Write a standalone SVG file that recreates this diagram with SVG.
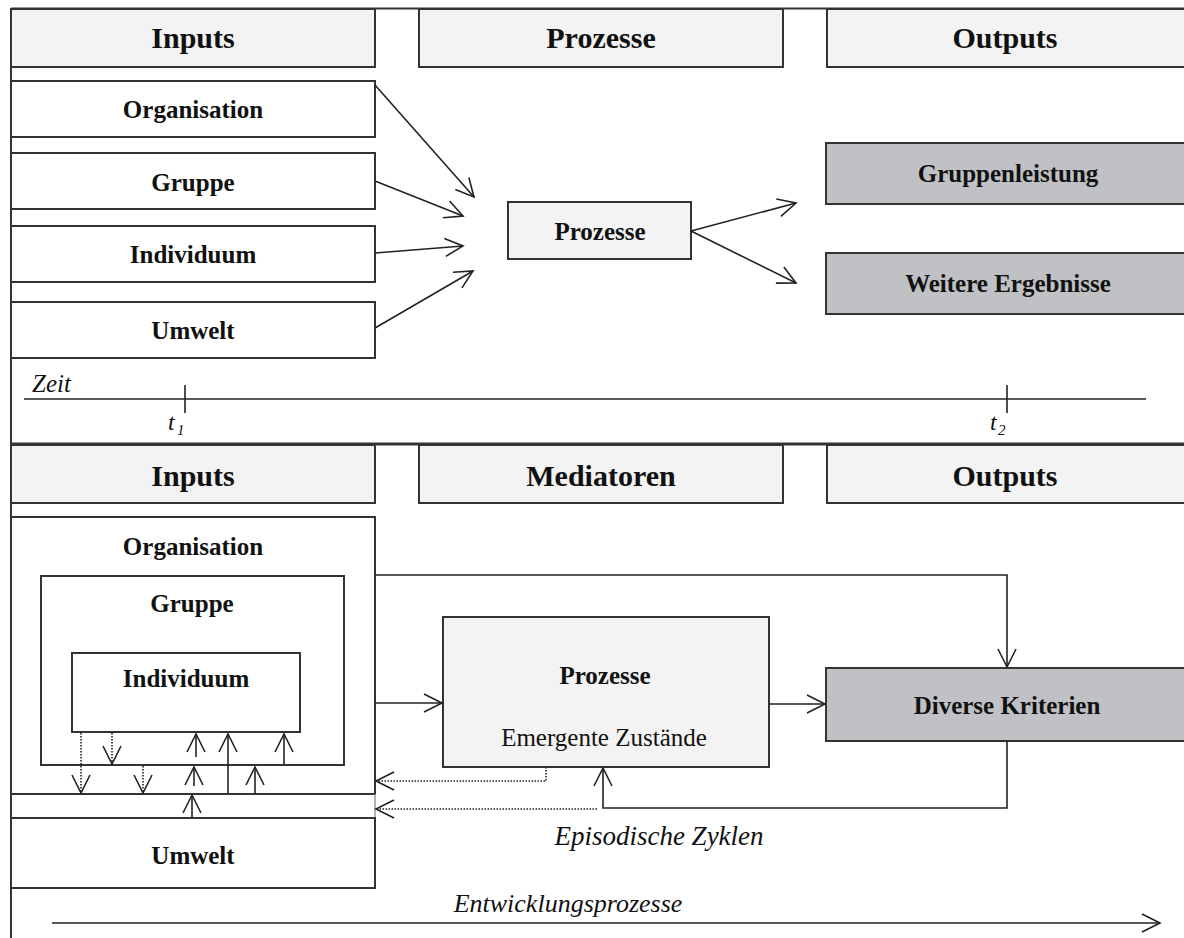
<svg xmlns="http://www.w3.org/2000/svg" width="1184" height="938" viewBox="0 0 1184 938">
<style>
.hdr{fill:#f2f3f2;stroke:#333;stroke-width:2}
.box{fill:#fff;stroke:#333;stroke-width:2}
.lt{fill:#f2f3f2;stroke:#333;stroke-width:2}
.gr{fill:#c0c1c4;stroke:#333;stroke-width:2}
.ht{font-family:"Liberation Serif",serif;font-weight:bold;font-size:30px;fill:#111;text-anchor:middle}
.bt{font-family:"Liberation Serif",serif;font-weight:bold;font-size:25px;fill:#111;text-anchor:middle}
.rt{font-family:"Liberation Serif",serif;font-size:25px;fill:#111;text-anchor:middle}
.it{font-family:"Liberation Serif",serif;font-style:italic;font-size:25px;fill:#111}
.ln{fill:none;stroke:#222;stroke-width:1.6}
.dt{fill:none;stroke:#222;stroke-width:1.6;stroke-dasharray:1.5 1.5}
</style>
<defs>
<marker id="ah" markerUnits="userSpaceOnUse" markerWidth="24" markerHeight="24" viewBox="-20 -12 24 24" refX="0" refY="0" orient="auto" overflow="visible">
<path d="M-18,-9 L0,0 L-18,9" fill="none" stroke="#222" stroke-width="1.6"/>
</marker>
</defs>
<rect x="0" y="0" width="1184" height="938" fill="#fff"/>
<g id="frame">
<line x1="11" y1="8.5" x2="1184" y2="8.5" stroke="#333" stroke-width="2"/>
<line x1="11" y1="8" x2="11" y2="938" stroke="#333" stroke-width="2"/>
<line x1="11" y1="444" x2="1184" y2="444" stroke="#333" stroke-width="3"/>
</g>
<g id="hdr-inputs-top"><rect class="hdr" x="11" y="9" width="364" height="58"/><text class="ht" x="193" y="48">Inputs</text></g>
<g id="hdr-prozesse-top"><rect class="hdr" x="419" y="9" width="364" height="58"/><text class="ht" x="601" y="48">Prozesse</text></g>
<g id="hdr-outputs-top"><rect class="hdr" x="827" y="9" width="370" height="58"/><text class="ht" x="1005" y="48">Outputs</text></g>
<g id="organisation-top"><rect class="box" x="11" y="81" width="364" height="56"/><text class="bt" x="193" y="118">Organisation</text></g>
<g id="gruppe-top"><rect class="box" x="11" y="153" width="364" height="56"/><text class="bt" x="193" y="191">Gruppe</text></g>
<g id="individuum-top"><rect class="box" x="11" y="226" width="364" height="56"/><text class="bt" x="193" y="263">Individuum</text></g>
<g id="umwelt-top"><rect class="box" x="11" y="302" width="364" height="56"/><text class="bt" x="193" y="339">Umwelt</text></g>
<g id="prozesse-top"><rect class="lt" x="508" y="202" width="183" height="57"/><text class="bt" x="600" y="240">Prozesse</text></g>
<g id="gruppenleistung"><rect class="gr" x="826" y="143" width="370" height="61"/><text class="bt" x="1008" y="182">Gruppenleistung</text></g>
<g id="weitere-ergebnisse"><rect class="gr" x="826" y="253" width="370" height="61"/><text class="bt" x="1008" y="292">Weitere Ergebnisse</text></g>
<g id="zeitachse">
<line class="ln" x1="24" y1="399" x2="1146" y2="399"/>
<line class="ln" x1="185" y1="385" x2="185" y2="413"/>
<line class="ln" x1="1007" y1="385" x2="1007" y2="413"/>
<text class="it" x="32" y="392">Zeit</text>
<text class="it" x="168" y="430" style="font-size:24px">t</text><text class="it" x="177" y="435" style="font-size:15px">1</text>
<text class="it" x="990" y="430" style="font-size:24px">t</text><text class="it" x="998" y="435" style="font-size:15px">2</text>
</g>
<g id="hdr-inputs-bottom"><rect class="hdr" x="11" y="445" width="364" height="58"/><text class="ht" x="193" y="486">Inputs</text></g>
<g id="hdr-mediatoren"><rect class="hdr" x="419" y="445" width="364" height="58"/><text class="ht" x="601" y="486">Mediatoren</text></g>
<g id="hdr-outputs-bottom"><rect class="hdr" x="827" y="445" width="370" height="58"/><text class="ht" x="1005" y="486">Outputs</text></g>
<g id="organisation-bottom"><rect class="box" x="11" y="517" width="364" height="277"/><text class="bt" x="193" y="555">Organisation</text></g>
<g id="gruppe-bottom"><rect class="box" x="41" y="576" width="303" height="189"/><text class="bt" x="192" y="612">Gruppe</text></g>
<g id="individuum-bottom"><rect class="box" x="72" y="653" width="228" height="79"/><text class="bt" x="186" y="687">Individuum</text></g>
<g id="umwelt-bottom"><line x1="375" y1="794" x2="375" y2="818" stroke="#999" stroke-width="1.5"/><rect class="box" x="11" y="818" width="364" height="70"/><text class="bt" x="193" y="864">Umwelt</text></g>
<g id="prozesse-bottom"><rect class="lt" x="443" y="617" width="326" height="150"/><text class="bt" x="605" y="684">Prozesse</text><text class="rt" x="604" y="746">Emergente Zustände</text></g>
<g id="diverse-kriterien"><rect class="gr" x="826" y="668" width="370" height="73"/><text class="bt" x="1007" y="714">Diverse Kriterien</text></g>
<g id="connectors">
<line class="ln" x1="375" y1="85" x2="474" y2="197" marker-end="url(#ah)"/>
<line class="ln" x1="375" y1="181" x2="463" y2="216" marker-end="url(#ah)"/>
<line class="ln" x1="375" y1="253" x2="463" y2="246" marker-end="url(#ah)"/>
<line class="ln" x1="375" y1="328" x2="473" y2="271" marker-end="url(#ah)"/>
<line class="ln" x1="691" y1="231" x2="796" y2="203" marker-end="url(#ah)"/>
<line class="ln" x1="691" y1="231" x2="796" y2="283" marker-end="url(#ah)"/>
<polyline class="ln" points="375,575 1007,575 1007,667" marker-end="url(#ah)"/>
<line class="ln" x1="375" y1="703" x2="442" y2="703" marker-end="url(#ah)"/>
<line class="ln" x1="769" y1="704" x2="825" y2="704" marker-end="url(#ah)"/>
<polyline class="ln" points="1007,741 1007,808 603,808 603,768" marker-end="url(#ah)"/>
<polyline class="dt" points="546,767 546,781 376,781" marker-end="url(#ah)"/>
<line class="dt" x1="597" y1="809" x2="376" y2="809" marker-end="url(#ah)"/>
<line class="dt" x1="81" y1="733" x2="81" y2="793" marker-end="url(#ah)"/>
<line class="dt" x1="112" y1="733" x2="112" y2="764" marker-end="url(#ah)"/>
<line class="dt" x1="143" y1="766" x2="143" y2="793" marker-end="url(#ah)"/>
<line class="ln" x1="196" y1="757" x2="196" y2="734" marker-end="url(#ah)"/>
<line class="ln" x1="228" y1="794" x2="228" y2="734" marker-end="url(#ah)"/>
<line class="ln" x1="284" y1="765" x2="284" y2="734" marker-end="url(#ah)"/>
<line class="ln" x1="194" y1="786" x2="194" y2="767" marker-end="url(#ah)"/>
<line class="ln" x1="255" y1="794" x2="255" y2="767" marker-end="url(#ah)"/>
<line class="ln" x1="192" y1="818" x2="192" y2="795" marker-end="url(#ah)"/>
<line class="ln" x1="52" y1="923" x2="1160" y2="923" marker-end="url(#ah)"/>
</g>
<text class="it" x="659" y="845" text-anchor="middle" style="font-size:27px">Episodische Zyklen</text>
<text class="it" x="568" y="912" text-anchor="middle" style="font-size:26px">Entwicklungsprozesse</text>
</svg>
